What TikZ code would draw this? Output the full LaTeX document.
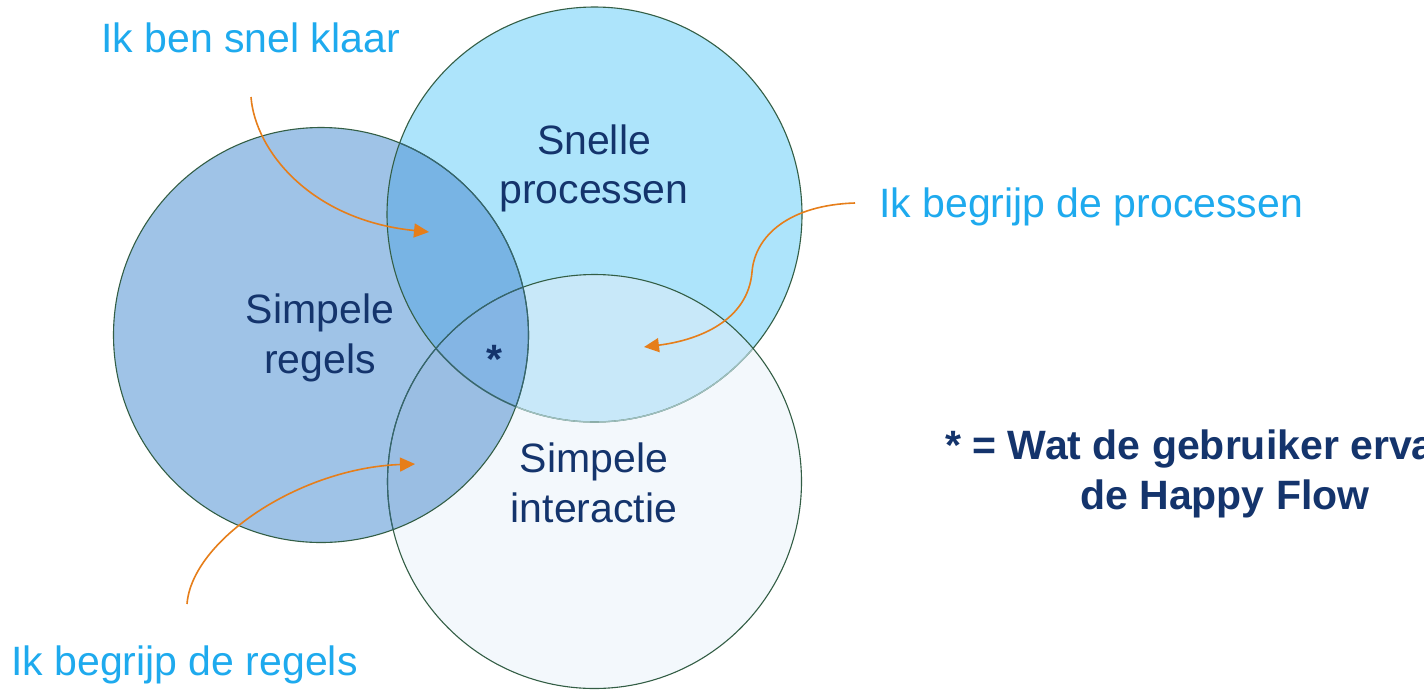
\documentclass[tikz,border=0pt]{standalone}
\usepackage{fontspec}
\setmainfont{Liberation Sans}
\usetikzlibrary{arrows.meta}
\definecolor{cA}{HTML}{9FC3E7}
\definecolor{cB}{HTML}{ADE4FB}
\definecolor{cC}{HTML}{F3F8FC}
\definecolor{cAB}{HTML}{78B4E4}
\definecolor{cBC}{HTML}{C8E8F9}
\definecolor{cAC}{HTML}{9ABEE3}
\definecolor{cABC}{HTML}{84B5E4}
\definecolor{ringcol}{HTML}{335E45}
\definecolor{ringteal}{HTML}{356570}
\definecolor{ringfade}{HTML}{9EBFBE}
\definecolor{navy}{HTML}{14346C}
\definecolor{lblue}{HTML}{1EAAEE}
\definecolor{arrowor}{HTML}{E67E1A}
\begin{document}
\begin{tikzpicture}[x=1pt,y=-1pt,
  ring/.style={draw=ringcol,line width=1.1pt},
  circtext/.style={text=navy,inner sep=0pt,anchor=base,font=\fontsize{41}{50}\selectfont},
  sidelabel/.style={text=lblue,inner sep=0pt,anchor=base west,font=\fontsize{41}{50}\selectfont},
  notetext/.style={text=navy,inner sep=0pt,anchor=base west,font=\fontsize{41}{50}\selectfont\bfseries},
  hint/.style={draw=arrowor,line width=1.6pt,-{Triangle[length=15pt,width=14pt]}}]
\clip (0,0) rectangle (1424,689);
\fill[white] (0,0) rectangle (1424,689);
\def\cA{(321,335) circle[radius=207.5pt]}
\def\cB{(594.5,214.5) circle[radius=207.5pt]}
\def\cC{(594.5,481.5) circle[radius=207pt]}
% region fills
\fill[cA] \cA;
\fill[cB] \cB;
\fill[cC] \cC;
\begin{scope}\clip \cA; \fill[cAB] \cB; \end{scope}
\begin{scope}\clip \cB; \fill[cBC] \cC; \end{scope}
\begin{scope}\clip \cA; \fill[cAC] \cC; \end{scope}
\begin{scope}\clip \cA; \clip \cB; \fill[cABC] \cC; \end{scope}
% outlines
\draw[ring] \cA;
\draw[ring] \cB;
\begin{scope}\clip \cC; \draw[draw=ringfade,line width=1.4pt] \cB; \end{scope}
\begin{scope}\clip \cA; \clip \cC; \draw[draw=ringteal,line width=1.4pt] \cB; \end{scope}
\draw[ring] \cC;
\begin{scope}\clip \cA; \draw[draw=ringteal,line width=1.1pt] \cC; \end{scope}
\begin{scope}\clip \cB; \draw[draw=ringteal,line width=1.1pt] \cA; \end{scope}
% circle texts
\node[circtext] (snelle) at (594,154) {Snelle};
\node[circtext] (processen) at (594,203) {processen};
\node[circtext] (simpele1) at (320,323) {Simpele};
\node[circtext] (regels) at (320,373) {regels};
\node[circtext] (simpele2) at (594,472) {Simpele};
\node[circtext] (interactie) at (594,522) {interactie};
\node[circtext,font=\fontsize{41}{50}\selectfont\bfseries] (star) at (494,373) {*};
% side labels
\node[sidelabel] (klaar) at (101,52) {Ik ben snel klaar};
\node[sidelabel] (procl) at (879,217) {Ik begrijp de processen};
\node[sidelabel] (regl) at (11,675) {Ik begrijp de regels};
% note
\node[notetext] (note1) at (945,459) {* = Wat de gebruiker erva};
\node[notetext] (note2) at (1080,509) {de Happy Flow};
% arrows
\coordinate (a1s) at (251,97);
\coordinate (a1e) at (429,232);
\coordinate (a2s) at (855,203);
\coordinate (a2m) at (752,272);
\coordinate (a2e) at (644,347);
\coordinate (a3s) at (187,604);
\coordinate (a3e) at (415,464);
\draw[hint] (a1s) .. controls (255,150) and (310,220) .. (a1e);
\draw[hint] (a2s) .. controls (790,205) and (755,235) .. (a2m) .. controls (748,320) and (700,340) .. (a2e);
\draw[hint] (a3s) .. controls (192,540) and (300,468) .. (a3e);
\end{tikzpicture}
\end{document}
